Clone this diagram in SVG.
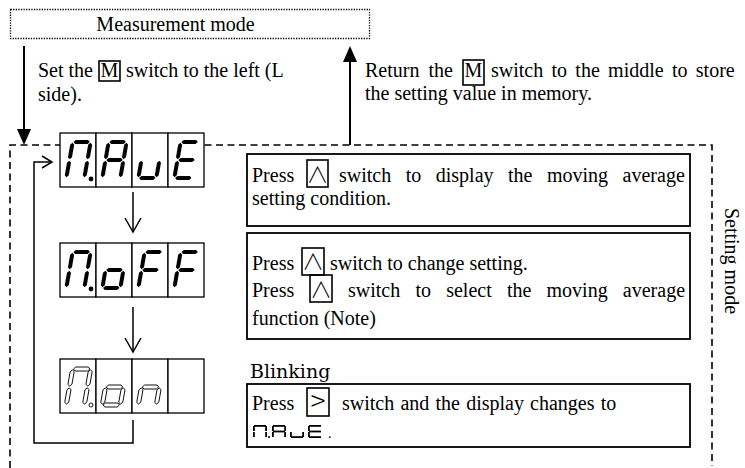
<svg xmlns="http://www.w3.org/2000/svg" xmlns:xlink="http://www.w3.org/1999/xlink" width="745" height="468" viewBox="0 0 745 468">
  <style>
    .t { font-family: "Liberation Serif", "Times New Roman", serif; font-size: 20px; fill: #000; }
    .sym { font-family: "Noto Sans CJK JP", "Noto Sans", sans-serif; font-size: 22px; font-weight: 300; fill: #000; }
    .serif2 { font-family: "DejaVu Serif", serif; font-size: 19px; fill: #000; }
    .key { fill: none; stroke: #000; stroke-width: 1.6; }
    .box { fill: #fff; stroke: #000; stroke-width: 1.8; }
    .frame { fill: none; stroke: #000; stroke-width: 1.6; stroke-dasharray: 7 4.5; }
    .dots { fill: none; stroke: #000; stroke-width: 1.3; stroke-dasharray: 1.3 1.3; }
    .cell { fill: #fff; stroke: #000; stroke-width: 1.3; }
    .on { fill: #000; }
    .off { fill: #fff; stroke: #000; stroke-width: 0.9; }
    .conn { fill: none; stroke: #000; stroke-width: 1.5; }
    .bold { fill: none; stroke: #000; stroke-width: 2; }
  </style>
  <defs>
    <!-- 7-segment display segments (22 x 40 digit) -->
    <polygon id="sa" points="2.8,2 4.8,0 17.2,0 19.2,2 17.2,4 4.8,4"/>
    <polygon id="sb" points="20,2.8 22,4.8 22,17.2 20,19.2 18,17.2 18,4.8"/>
    <polygon id="sc" points="20,20.8 22,22.8 22,35.2 20,37.2 18,35.2 18,22.8"/>
    <polygon id="sd" points="2.8,38 4.8,36 17.2,36 19.2,38 17.2,40 4.8,40"/>
    <polygon id="se" points="2,20.8 4,22.8 4,35.2 2,37.2 0,35.2 0,22.8"/>
    <polygon id="sf" points="2,2.8 4,4.8 4,17.2 2,19.2 0,17.2 0,4.8"/>
    <polygon id="sg" points="2.8,20 4.8,18 17.2,18 19.2,20 17.2,22 4.8,22"/>
    <!-- small inline segments (14 x 13) -->
    <rect id="ma" x="1" y="0" width="12" height="1.8"/>
    <rect id="mb" x="12.2" y="1" width="1.8" height="5"/>
    <rect id="mc" x="12.2" y="7" width="1.8" height="5"/>
    <rect id="md" x="1" y="11.2" width="12" height="1.8"/>
    <rect id="me" x="0" y="7" width="1.8" height="5"/>
    <rect id="mf" x="0" y="1" width="1.8" height="5"/>
    <rect id="mg" x="1" y="5.6" width="12" height="1.8"/>
    <marker id="solid" viewBox="0 0 16 14" markerWidth="16" markerHeight="14" refX="4" refY="7" orient="auto" markerUnits="userSpaceOnUse">
      <path d="M0,0 L16,7 L0,14 Z" fill="#000"/>
    </marker>
    <marker id="open" viewBox="-1 -1 18 18" markerWidth="18" markerHeight="18" refX="15" refY="8" orient="auto" markerUnits="userSpaceOnUse">
      <path d="M1,0 L15,8 L1,16" fill="none" stroke="#000" stroke-width="1.5"/>
    </marker>
    <marker id="openSmall" viewBox="-1 -1 14 14" markerWidth="14" markerHeight="14" refX="11" refY="6" orient="auto" markerUnits="userSpaceOnUse">
      <path d="M1,0 L11,6 L1,12" fill="none" stroke="#000" stroke-width="1.5"/>
    </marker>
  </defs>

  <rect width="745" height="468" fill="#fff"/>

  <!-- Measurement mode -->
  <g id="measurement-mode">
    <rect class="dots" x="10.5" y="9.5" width="359" height="29"/>
    <text class="t" x="175.5" y="31" text-anchor="middle">Measurement mode</text>
  </g>

  <!-- Setting mode frame -->
  <g id="setting-mode">
    <path class="frame" d="M10,468 V145 H712 V466"/>
    <text class="t" transform="translate(725,261) rotate(90)" text-anchor="middle">Setting mode</text>
  </g>

  <!-- Connectors -->
  <g id="connectors">
    <line class="bold" x1="24" y1="46" x2="24" y2="133" marker-end="url(#solid)"/>
    <line class="bold" x1="350" y1="145" x2="350" y2="58" marker-end="url(#solid)"/>
    <line class="conn" x1="133" y1="192" x2="133" y2="232" marker-end="url(#open)"/>
    <line class="conn" x1="133" y1="307" x2="133" y2="352" marker-end="url(#open)"/>
    <path class="conn" d="M133,420 V443 H34 V162 H52" marker-end="url(#openSmall)"/>
  </g>

  <!-- Switch instructions -->
  <g id="note-enter">
    <text class="t" x="38" y="77">Set the</text>
    <rect class="key" x="99" y="61" width="21" height="20"/>
    <text class="t" x="109.5" y="77" text-anchor="middle">M</text>
    <text class="t" x="126" y="77">switch to the left (L</text>
    <text class="t" x="38" y="101">side).</text>
  </g>
  <g id="note-return">
    <text class="t" x="365" y="77" word-spacing="4">Return the</text>
    <rect class="key" x="463" y="60" width="21" height="25"/>
    <text class="t" x="473.5" y="77" text-anchor="middle">M</text>
    <text class="t" x="491" y="77" word-spacing="3.3">switch to the middle to store</text>
    <text class="t" x="365" y="100">the setting value in memory.</text>
  </g>

  <!-- Display: M.AvE -->
  <g id="display-mave">
    <rect class="cell" x="60" y="133" width="36" height="54"/>
    <rect class="cell" x="96" y="133" width="36" height="54"/>
    <rect class="cell" x="132" y="133" width="36" height="54"/>
    <rect class="cell" x="168" y="133" width="36" height="54"/>
    <g class="on" transform="translate(71,140) skewX(-10)">
      <use xlink:href="#sa"/><use xlink:href="#sb"/><use xlink:href="#sc"/><use xlink:href="#se"/><use xlink:href="#sf"/>
    </g>
    <circle class="on" cx="91" cy="179" r="2.4"/>
    <g class="on" transform="translate(107,140) skewX(-10)">
      <use xlink:href="#sa"/><use xlink:href="#sb"/><use xlink:href="#sc"/><use xlink:href="#se"/><use xlink:href="#sf"/><use xlink:href="#sg"/>
    </g>
    <g class="on" transform="translate(143,140) skewX(-10)">
      <use xlink:href="#sc"/><use xlink:href="#sd"/><use xlink:href="#se"/>
    </g>
    <g class="on" transform="translate(179,140) skewX(-10)">
      <use xlink:href="#sa"/><use xlink:href="#sd"/><use xlink:href="#se"/><use xlink:href="#sf"/><use xlink:href="#sg"/>
    </g>
  </g>

  <!-- Display: M.oFF -->
  <g id="display-moff">
    <rect class="cell" x="60" y="243" width="36" height="54"/>
    <rect class="cell" x="96" y="243" width="36" height="54"/>
    <rect class="cell" x="132" y="243" width="36" height="54"/>
    <rect class="cell" x="168" y="243" width="36" height="54"/>
    <g class="on" transform="translate(71,250) skewX(-10)">
      <use xlink:href="#sa"/><use xlink:href="#sb"/><use xlink:href="#sc"/><use xlink:href="#se"/><use xlink:href="#sf"/>
    </g>
    <circle class="on" cx="91" cy="289" r="2.4"/>
    <g class="on" transform="translate(107,250) skewX(-10)">
      <use xlink:href="#sc"/><use xlink:href="#sd"/><use xlink:href="#se"/><use xlink:href="#sg"/>
    </g>
    <g class="on" transform="translate(143,250) skewX(-10)">
      <use xlink:href="#sa"/><use xlink:href="#se"/><use xlink:href="#sf"/><use xlink:href="#sg"/>
    </g>
    <g class="on" transform="translate(179,250) skewX(-10)">
      <use xlink:href="#sa"/><use xlink:href="#se"/><use xlink:href="#sf"/><use xlink:href="#sg"/>
    </g>
  </g>

  <!-- Display: M.on (blinking) -->
  <g id="display-mon">
    <rect class="cell" x="60" y="359" width="36" height="54"/>
    <rect class="cell" x="96" y="359" width="36" height="54"/>
    <rect class="cell" x="132" y="359" width="36" height="54"/>
    <rect class="cell" x="168" y="359" width="36" height="54"/>
    <g class="off" transform="translate(71,367) skewX(-10)">
      <use xlink:href="#sa"/><use xlink:href="#sb"/><use xlink:href="#sc"/><use xlink:href="#se"/><use xlink:href="#sf"/>
    </g>
    <circle class="off" cx="91" cy="405" r="2"/>
    <g class="off" transform="translate(107,367) skewX(-10)">
      <use xlink:href="#sc"/><use xlink:href="#sd"/><use xlink:href="#se"/><use xlink:href="#sg"/>
    </g>
    <g class="off" transform="translate(143,367) skewX(-10)">
      <use xlink:href="#sc"/><use xlink:href="#se"/><use xlink:href="#sg"/>
    </g>
  </g>

  <!-- Step 1 -->
  <g id="step-display">
    <rect class="box" x="247" y="154" width="443" height="72"/>
    <text class="t" x="252" y="182">Press</text>
    <rect class="key" x="307" y="160" width="21" height="27"/>
    <text class="sym" x="317.5" y="182" text-anchor="middle">∧</text>
    <text class="t" x="339" y="182" word-spacing="9.5">switch to display the moving average</text>
    <text class="t" x="252" y="205">setting condition.</text>
  </g>

  <!-- Step 2 -->
  <g id="step-change">
    <rect class="box" x="247" y="233" width="443" height="106"/>
    <text class="t" x="252" y="270">Press</text>
    <rect class="key" x="302" y="248" width="22" height="27"/>
    <text class="sym" x="313" y="269" text-anchor="middle">∧</text>
    <text class="t" x="330" y="270">switch to change setting.</text>
    <text class="t" x="252" y="297">Press</text>
    <rect class="key" x="310" y="275" width="22" height="27"/>
    <text class="sym" x="321" y="297" text-anchor="middle">∧</text>
    <text class="t" x="348" y="297" word-spacing="10.2">switch to select the moving average</text>
    <text class="t" x="252" y="325">function (Note)</text>
  </g>

  <!-- Step 3 -->
  <g id="step-confirm">
    <text class="serif2" x="250" y="378">Blinking</text>
    <rect class="box" x="247" y="384" width="443" height="63"/>
    <rect class="key" x="307" y="388" width="22" height="28"/>
    <text class="t" x="252" y="410">Press</text>
    <text class="sym" x="318" y="411" text-anchor="middle" style="font-size:28px">&gt;</text>
    <text class="t" x="342" y="410" word-spacing="1.2">switch and the display changes to</text>
    <g class="on" transform="translate(253,425)">
      <use xlink:href="#ma"/><use xlink:href="#mb"/><use xlink:href="#mc"/><use xlink:href="#me"/><use xlink:href="#mf"/>
    </g>
    <circle class="on" cx="269" cy="437" r="1.1"/>
    <g class="on" transform="translate(272,425)">
      <use xlink:href="#ma"/><use xlink:href="#mb"/><use xlink:href="#mc"/><use xlink:href="#me"/><use xlink:href="#mf"/><use xlink:href="#mg"/>
    </g>
    <g class="on" transform="translate(290,425)">
      <use xlink:href="#mc"/><use xlink:href="#md"/><use xlink:href="#me"/>
    </g>
    <g class="on" transform="translate(308,425)">
      <use xlink:href="#ma"/><use xlink:href="#md"/><use xlink:href="#me"/><use xlink:href="#mf"/><use xlink:href="#mg"/>
    </g>
    <text class="t" x="328" y="438" style="font-size:14px">.</text>
  </g>
</svg>
